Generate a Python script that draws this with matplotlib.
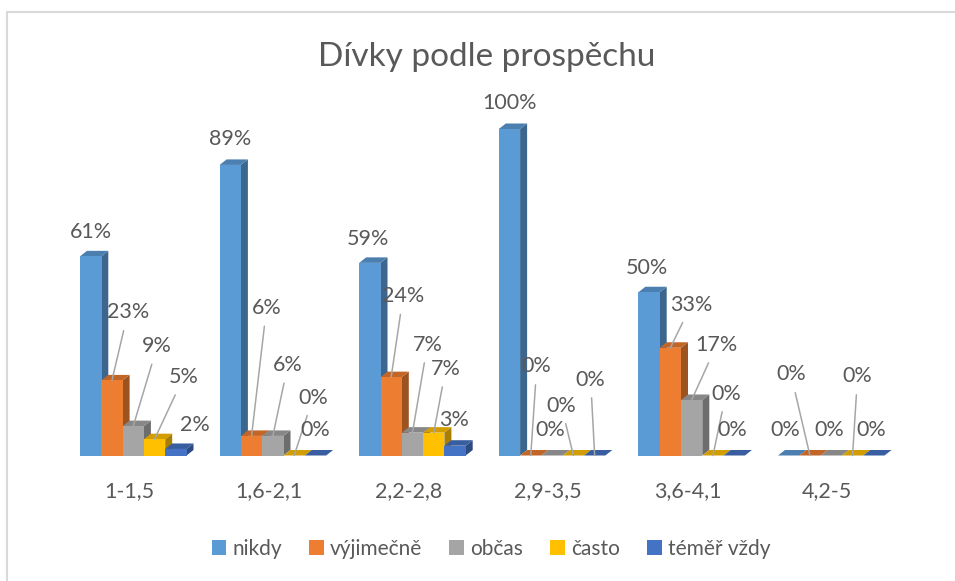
import numpy as np
import matplotlib
matplotlib.use("Agg")
import matplotlib.pyplot as plt
from matplotlib.patches import Polygon, Rectangle, Patch
from matplotlib.colors import to_rgb

# data
categories = ["1-1,5", "1,6-2,1", "2,2-2,8", "2,9-3,5", "3,6-4,1", "4,2-5"]
series_names = ["nikdy", "výjimečně", "občas", "často", "téměř vždy"]
nikdy = [61, 89, 59, 100, 50, 0]
vyjimecne = [23, 6, 24, 0, 33, 0]
obcas = [9, 6, 7, 0, 17, 0]
casto = [5, 0, 7, 0, 0, 0]
temer_vzdy = [2, 0, 3, 0, 0, 0]
series = [nikdy, vyjimecne, obcas, casto, temer_vzdy]

colors = ["#5B9BD5", "#ED7D31", "#A5A5A5", "#FFC000", "#4472C4"]
TEXT = "#595959"
LEADER = "#A6A6A6"

# label placement (pixels from the bar's top centre), leader line on/off
label_pos = [
    [(0, 24, 0), (16, 68, 1), (24, 80, 1), (29, 62, 1), (19, 24, 0)],
    [(0, 26, 0), (15, 128, 1), (15, 71, 1), (19, 58, 1), (0, 26, 0)],
    [(-2, 24, 0), (12, 81, 1), (15, 88, 1), (12, 64, 1), (-1, 26, 0)],
    [(0, 26, 0), (6, 89, 1), (-2, 26, 0), (-12, 50, 1), (-4, 76, 1)],
    [(-2, 24, 0), (21, 43, 1), (25, 55, 1), (13, 62, 1), (-2, 25, 0)],
    [(-3, 26, 0), (-19, 81, 1), (-2, 26, 0), (5, 79, 1), (-3, 26, 0)],
]

plt.rcParams["font.family"] = ["Lato", "DejaVu Sans"]

W, H = 955, 581
fig = plt.figure(figsize=(W / 100, H / 100), dpi=100)

# axes placed so that one category = 139.6 px, 1 % = 3.265 px
x0_px, unit_x = 129, 139.6
base_px, unit_y = 455.5, 3.265
ax = fig.add_axes([(x0_px - 0.5 * unit_x) / W,
                   (H - (base_px + 10 * unit_y)) / H,
                   6 * unit_x / W,
                   120 * unit_y / H])
ax.set_xlim(-0.5, 5.5)
ax.set_ylim(-10, 110)
ax.axis("off")

bar_w = 21.3 / unit_x
left0 = -49 / unit_x
depth_x = 7 / unit_x
depth_y = 5.5 / unit_y


def shade(c, f):
    r, g, b = to_rgb(c)
    return (r * f, g * f, b * f)


for i in range(len(categories)):
    for j, vals in enumerate(series):
        v = vals[i]
        xl = i + left0 + j * bar_w
        xr = xl + bar_w
        c = colors[j]
        # side face
        ax.add_patch(Polygon([(xr, 0), (xr + depth_x, depth_y),
                              (xr + depth_x, v + depth_y), (xr, v)],
                             closed=True, facecolor=shade(c, 0.66),
                             edgecolor="none", zorder=2 + j))
        # top face
        ax.add_patch(Polygon([(xl, v), (xl + depth_x, v + depth_y),
                              (xr + depth_x, v + depth_y), (xr, v)],
                             closed=True, facecolor=shade(c, 0.82),
                             edgecolor="none", zorder=2 + j))
        # front face
        ax.bar(xl, v, bar_w, align="edge", color=c, zorder=2 + j,
               linewidth=0)

        dx, dy, lead = label_pos[i][j]
        props = None
        if lead:
            props = dict(arrowstyle="-", color=LEADER, lw=1.1,
                         shrinkA=4, shrinkB=0)
        ax.annotate(f"{v}%", xy=(xl + bar_w / 2, v), xytext=(dx, dy),
                    textcoords="offset pixels", ha="center", va="center",
                    fontsize=15.5, color=TEXT, arrowprops=props, zorder=20)

# category labels
for i, cat in enumerate(categories):
    ax.text(i, -10.8, cat, ha="center", va="center", fontsize=15.5, color=TEXT)

# title
fig.text(487 / W, 1 - 57 / H, "Dívky podle prospěchu", ha="center",
         va="center", fontsize=24, color=TEXT)

# legend
handles = [Patch(facecolor=c, edgecolor="none") for c in colors]
fig.legend(handles, series_names, loc="center", ncol=5,
           bbox_to_anchor=(491 / W, 1 - 549 / H), frameon=False,
           fontsize=15, labelcolor=TEXT, handlelength=0.7, handleheight=0.7,
           handletextpad=0.3, columnspacing=1.3)

# chart border (only left and top visible in the crop)
fig.add_artist(Rectangle((6.5 / W, -0.1), 2, 1.1 - 12.5 / H,
                         transform=fig.transFigure, fill=False,
                         edgecolor="#D9D9D9", lw=1.5))

fig.savefig("out.png", dpi=100)
